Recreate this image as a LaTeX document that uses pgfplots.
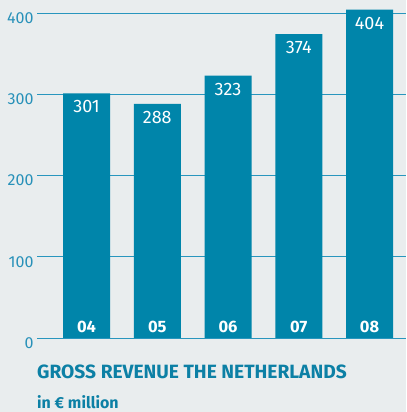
\documentclass[border=0pt]{standalone}
\usepackage{pgfplots}
\pgfplotsset{compat=1.18}
\usepackage{fontspec}
\setmainfont{Fira Sans}
\definecolor{bg}{RGB}{233,237,238}
\definecolor{barc}{RGB}{0,133,170}
\definecolor{gridc}{RGB}{40,150,190}
\definecolor{tickc}{RGB}{40,145,185}
\definecolor{titlec}{RGB}{12,128,165}
\pgfplotsset{layers/mine/.define layer set={axis background,axis grid,main,axis ticks,axis lines,axis tick labels,axis descriptions,axis foreground}{}}
\begin{document}
\begin{tikzpicture}[x=1pt,y=1pt]
\fill[bg] (0,0) rectangle (406,412);
\begin{axis}[
  set layers=mine,
  at={(37pt,74pt)}, anchor=south west,
  scale only axis, width=369pt, height=338pt,
  xmin=-0.70, xmax=4.516, ymin=0, ymax=416,
  axis x line=bottom, axis y line=left,
  x axis line style={-, draw=gridc, line width=0.8pt},
  y axis line style={draw=none},
  ytick={0,100,200,300,400},
  ymajorgrids, grid style={draw=gridc, line width=0.8pt},
  major tick length=0pt,
  /pgf/number format/assume math mode=true,
  yticklabel style={font=\fontsize{16}{16}\selectfont, text=tickc, yshift=-5pt},
  xtick=\empty,
  ybar, bar width=47pt, bar shift=0pt,
  clip=false,
]
\addplot[fill=barc, draw=none, nodes near coords,
  every node near coord/.style={font=\fontsize{18}{18}\selectfont, text=white, anchor=center, yshift=-13.5pt}]
  coordinates {(0,301) (1,288) (2,323) (3,374) (4,404)};
\addplot[draw=none, fill=none, forget plot, point meta=explicit symbolic, nodes near coords,
  every node near coord/.style={font=\fontsize{16.5}{16.5}\selectfont\bfseries, text=white, anchor=center, yshift=11.5pt}]
  coordinates {(0,0) [04] (1,0) [05] (2,0) [06] (3,0) [07] (4,0) [08]};
\end{axis}
\node[anchor=base west, text=titlec, inner sep=0pt, font=\fontsize{19.2}{19}\selectfont\bfseries] at (37,33) {GROSS REVENUE THE NETHERLANDS};
\node[anchor=base west, text=titlec, inner sep=0pt, font=\fontsize{16}{16}\selectfont\bfseries] at (37,3) {in € million};
\end{tikzpicture}
\end{document}
